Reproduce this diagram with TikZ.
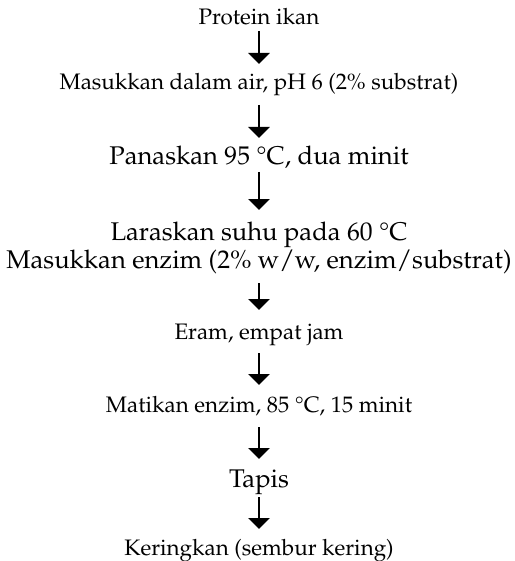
\documentclass[tikz,border=0pt]{standalone}
\usepackage[T1]{fontenc}
\usepackage{textcomp}
\usepackage{mathpazo}
\usetikzlibrary{arrows.meta}
\tikzset{
  sm/.style={anchor=base, inner sep=0pt, font=\fontsize{22.4}{27}\selectfont},
  lg/.style={anchor=base, inner sep=0pt, font=\fontsize{25.6}{30}\selectfont},
  arr/.style={line width=2.6pt, -{Triangle[width=21pt,length=11pt]}}
}
\begin{document}
\begin{tikzpicture}[x=1pt,y=-1pt]
\useasboundingbox (0,0) rectangle (514,561);
\node[sm] (n1) at (259,25) {Protein ikan};
\node[sm] (n2) at (259,90) {Masukkan dalam air, pH 6 (2\% substrat)};
\node[lg] (n3) at (259,165) {Panaskan 95 \textdegree C, dua minit};
\node[lg] (n4a) at (259,240) {Laraskan suhu pada 60 \textdegree C};
\node[lg] (n4) at (259,268) {Masukkan enzim (2\% w/w, enzim/substrat)};
\node[sm] (n5) at (259,339) {Eram, empat jam};
\node[sm] (n6) at (259,412) {Matikan enzim, 85 \textdegree C, 15 minit};
\node[lg] (n7) at (259,487) {Tapis};
\node[sm] (n8) at (259,555) {Keringkan (sembur kering)};
\draw[arr] ([yshift=-6pt]n1.base) -- ([yshift=26pt]n2.base);
\draw[arr] ([yshift=-15pt]n2.base) -- ([yshift=27pt]n3.base);
\draw[arr] ([yshift=-7pt]n3.base) -- ([yshift=30pt]n4a.base);
\draw[arr] ([yshift=-15pt]n4.base) -- ([yshift=29pt]n5.base);
\draw[arr] ([yshift=-14pt]n5.base) -- ([yshift=27pt]n6.base);
\draw[arr] ([yshift=-15pt]n6.base) -- ([yshift=28pt]n7.base);
\draw[arr] ([yshift=-10pt]n7.base) -- ([yshift=26pt]n8.base);
\end{tikzpicture}
\end{document}
